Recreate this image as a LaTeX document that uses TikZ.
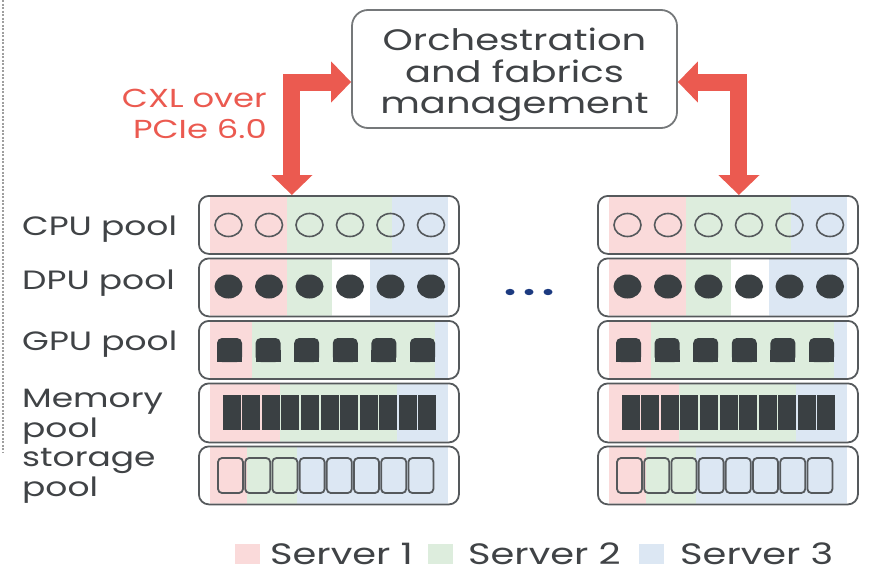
\documentclass[tikz,border=0pt]{standalone}
\usepackage{fontspec}
\setmainfont{Poppins}[FakeStretch=1.3]
\usetikzlibrary{arrows.meta}
\definecolor{txt}{HTML}{404346}
\definecolor{cxl}{HTML}{EB5A50}
\definecolor{bandR}{HTML}{FADADA}
\definecolor{bandG}{HTML}{DDEDDD}
\definecolor{bandB}{HTML}{DCE7F3}
\definecolor{dark}{HTML}{3A4043}
\definecolor{edge}{HTML}{55595C}
\definecolor{boxedge}{HTML}{75787A}
\definecolor{dotc}{HTML}{1C3A80}
\begin{document}
\begin{tikzpicture}[x=1pt,y=-1pt,
  lbl/.style={font=\fontsize{26.5}{30}\selectfont, text=txt, align=left, anchor=west, inner sep=0pt},
  leg/.style={font=\fontsize{29.5}{32}\selectfont, text=txt, anchor=west, inner sep=0pt, text height=21pt, text depth=0pt},
  rowbox/.style={draw=edge, line width=1.8pt, rounded corners=10pt, minimum width=260pt, minimum height=58pt, inner sep=0pt, anchor=north west},
  bigarrow/.style={draw=cxl, line width=17pt, line join=miter, {Triangle[width=40pt,length=20pt]}-{Triangle[width=40pt,length=20pt]}},
  cpuc/.style={draw=edge, line width=1.6pt},
  darkfill/.style={fill=dark},
  stor/.style={draw=edge, line width=1.8pt, rounded corners=4pt},
  legsq/.style={minimum width=25pt, minimum height=20pt, inner sep=0pt},
]
\useasboundingbox (0,0) rectangle (869,573);
% dashed margin line
\draw[gray!75, line width=1.5pt, dash pattern=on 2pt off 1.5pt] (3,0) -- (3,453);

% top box
\node[draw=boxedge, line width=1.8pt, rounded corners=16pt, minimum width=325pt, minimum height=118pt] (orch) at (514.5,69) {};
\node[align=center, text=txt, font=\fontsize{29.6}{31.5}\selectfont, inner sep=0pt] (orchtxt) at ([yshift=-6pt]orch.center)
      {Orchestration\\and fabrics\\management};

% CXL label
\node[font=\fontsize{26}{31}\selectfont, text=cxl, align=right, anchor=east, inner sep=0pt] (cxllbl) at (267,114) {CXL over\\PCIe 6.0};

% racks
\foreach \rx/\nm in {198/L,597/R}{
  % CPU row
  \begin{scope}
    \clip[rounded corners=10pt] (\rx,195) rectangle (\rx+260,253);
    \fill[bandR] (\rx+12,195) rectangle (\rx+89,253);
    \fill[bandG] (\rx+89,195) rectangle (\rx+194,253);
    \fill[bandB] (\rx+194,195) rectangle (\rx+250,253);
  \end{scope}
  \node[rowbox] (\nm cpu) at (\rx,195) {};
  \foreach \i in {0,...,5}{
    \draw[cpuc] (\rx+30.5+40.5*\i,225) ellipse [x radius=13.5pt, y radius=11.5pt];
  }
  % DPU row
  \begin{scope}
    \clip[rounded corners=10pt] (\rx,257.5) rectangle (\rx+260,315.5);
    \fill[bandR] (\rx+12,257.5) rectangle (\rx+89,315.5);
    \fill[bandG] (\rx+89,257.5) rectangle (\rx+134,315.5);
    \fill[bandB] (\rx+172,257.5) rectangle (\rx+250,315.5);
  \end{scope}
  \node[rowbox] (\nm dpu) at (\rx,257.5) {};
  \foreach \i in {0,...,5}{
    \fill[darkfill] (\rx+30.5+40.5*\i,286.5) ellipse [x radius=14pt, y radius=12pt];
  }
  % GPU row
  \begin{scope}
    \clip[rounded corners=10pt] (\rx,320) rectangle (\rx+260,378);
    \fill[bandR] (\rx+12,320) rectangle (\rx+54,378);
    \fill[bandG] (\rx+54,320) rectangle (\rx+237,378);
    \fill[bandB] (\rx+237,320) rectangle (\rx+250,378);
  \end{scope}
  \node[rowbox] (\nm gpu) at (\rx,320) {};
  \foreach \i in {0,...,5}{
    \fill[darkfill, rounded corners=5pt] (\rx+19+38.6*\i,338) rectangle (\rx+44+38.6*\i,362);
    \fill[darkfill] (\rx+19+38.6*\i,350) rectangle (\rx+44+38.6*\i,362);
  }
  % Memory row
  \begin{scope}
    \clip[rounded corners=10pt] (\rx,382.5) rectangle (\rx+260,441.5);
    \fill[bandR] (\rx+12,382.5) rectangle (\rx+82,441.5);
    \fill[bandG] (\rx+82,382.5) rectangle (\rx+199,441.5);
    \fill[bandB] (\rx+199,382.5) rectangle (\rx+250,441.5);
  \end{scope}
  \node[rowbox, minimum height=59pt] (\nm mem) at (\rx,382.5) {};
  \foreach \i in {0,...,10}{
    \fill[darkfill] (\rx+24+19.55*\i+0.8,395) rectangle (\rx+24+19.55*\i+18.75,430);
  }
  % Storage row
  \begin{scope}
    \clip[rounded corners=10pt] (\rx,445.5) rectangle (\rx+260,503.5);
    \fill[bandR] (\rx+12,445.5) rectangle (\rx+49,503.5);
    \fill[bandG] (\rx+49,445.5) rectangle (\rx+99,503.5);
    \fill[bandB] (\rx+99,445.5) rectangle (\rx+250,503.5);
  \end{scope}
  \node[rowbox] (\nm sto) at (\rx,445.5) {};
  \foreach \i in {0,...,7}{
    \draw[stor] (\rx+20+27.2*\i,458) rectangle (\rx+45+27.2*\i,493);
  }
}

% arrows
\draw[bigarrow] ([yshift=-13pt]orch.west) -| ([xshift=-37pt]Lcpu.north);
\draw[bigarrow] ([yshift=-13pt]orch.east) -| ([xshift=11pt]Rcpu.north);

% ellipsis dots
\foreach \x/\n in {510/d1,529/d2,548/d3}{
  \fill[dotc] (\x,292) ellipse [x radius=4.5pt, y radius=3.2pt];
}

% pool labels
\node[lbl] (lcpu) at (22,229) {CPU pool};
\node[lbl] (ldpu) at (22,283) {DPU pool};
\node[lbl] (lgpu) at (22,344.5) {GPU pool};
\node[lbl] (lmem) at (22,417) {Memory\\pool};
\node[lbl] (lsto) at (22,476) {storage\\pool};

% legend
\node[legsq, fill=bandR] (sq1) at (247.5,554) {};
\node[leg] (s1) at (270,554) {Server 1};
\node[legsq, fill=bandG] (sq2) at (440.5,554) {};
\node[leg] (s2) at (468,554) {Server 2};
\node[legsq, fill=bandB] (sq3) at (651.5,554) {};
\node[leg] (s3) at (680,554) {Server 3};
\end{tikzpicture}
\end{document}
